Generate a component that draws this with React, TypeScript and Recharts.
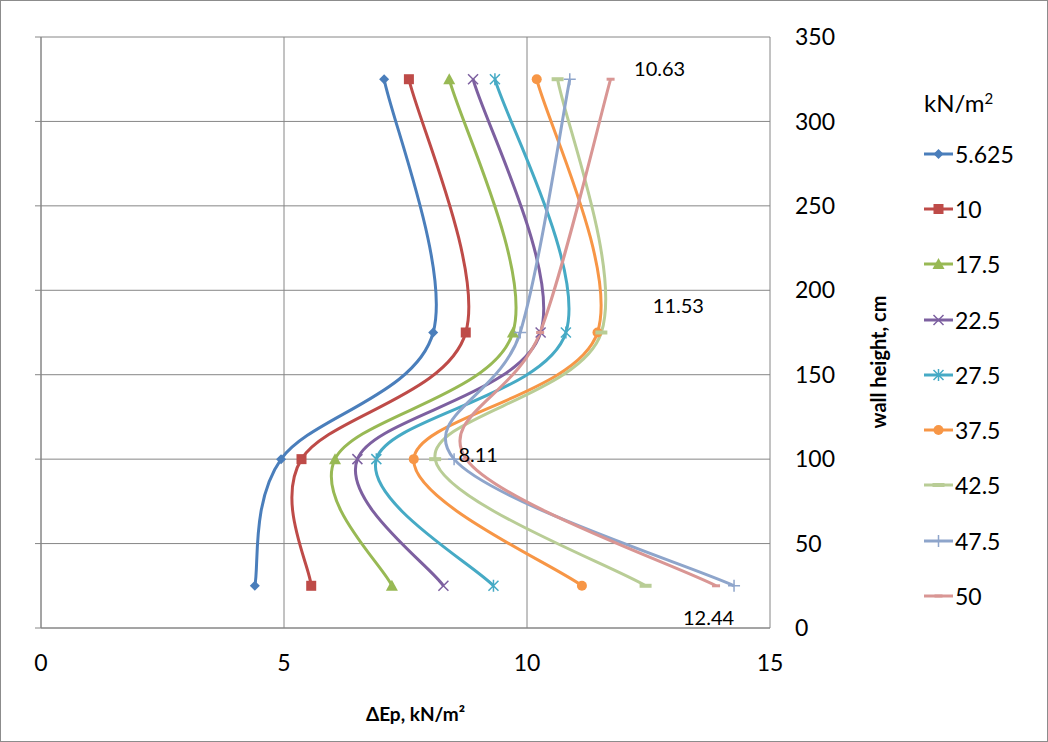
import { LineChart, Line, XAxis, YAxis, CartesianGrid, Legend, LabelList } from 'recharts';

const FONT = 'Lato, "Open Sans", sans-serif';

// wall heights (cm) where the pressure change was measured
const heights = [25, 100, 175, 325];

// surcharge loads, kN/m2 (legend names)
const loads = ['5.625', '10', '17.5', '22.5', '27.5', '37.5', '42.5', '47.5', '50'];

// ΔEp values (kN/m2) at each height, one list per load
const ep5625 = [4.4, 4.94, 8.07, 7.06];
const ep10 = [5.56, 5.36, 8.74, 7.57];
const ep175 = [7.22, 6.05, 9.71, 8.4];
const ep225 = [8.28, 6.51, 10.28, 8.89];
const ep275 = [9.31, 6.9, 10.8, 9.34];
const ep375 = [11.13, 7.67, 11.45, 10.2];
const ep425 = [12.44, 8.11, 11.53, 10.63];
const ep475 = [14.26, 8.5, 9.86, 10.88];
const ep50 = [13.89, 8.75, 10.27, 11.72];

const seriesValues = [ep5625, ep10, ep175, ep225, ep275, ep375, ep425, ep475, ep50];

const xTicks = [0, 5, 10, 15];
const yTicks = [0, 50, 100, 150, 200, 250, 300, 350];

const colors = ['#4A7EBB', '#BE4B48', '#98B954', '#7D60A0', '#46AAC5', '#F79646', '#B9CD96', '#8EA5CB', '#D99694'];
const shapes = ['diamond', 'square', 'triangle', 'x', 'star', 'circle', 'dash', 'plus', 'line'];

// label offsets (px) for the annotated 42.5 series, same order as heights
const noteOffsets = [[63, 31], [43, -5], [77, -28], [102, -11]];

const GRID = '#868686';

// Excel-like smoothing: Catmull-Rom through every point
const smoothCurve: any = (context: any) => {
  let pts: number[][] = [];
  return {
    areaStart() {},
    areaEnd() {},
    lineStart() {
      pts = [];
    },
    point(x: number, y: number) {
      pts.push([+x, +y]);
    },
    lineEnd() {
      if (!pts.length) return;
      context.moveTo(pts[0][0], pts[0][1]);
      for (let i = 0; i < pts.length - 1; i++) {
        const p0 = pts[i - 1] || pts[i];
        const p1 = pts[i];
        const p2 = pts[i + 1];
        const p3 = pts[i + 2] || p2;
        context.bezierCurveTo(
          p1[0] + (p2[0] - p0[0]) / 6,
          p1[1] + (p2[1] - p0[1]) / 6,
          p2[0] - (p3[0] - p1[0]) / 6,
          p2[1] - (p3[1] - p1[1]) / 6,
          p2[0],
          p2[1]
        );
      }
    },
  };
};

function Marker({ shape, cx, cy, color }: { shape: string; cx: number; cy: number; color: string }) {
  switch (shape) {
    case 'diamond':
      return <path d={`M${cx},${cy - 5}L${cx + 5},${cy}L${cx},${cy + 5}L${cx - 5},${cy}Z`} fill={color} />;
    case 'square':
      return <rect x={cx - 5} y={cy - 5} width={10} height={10} fill={color} />;
    case 'triangle':
      return <path d={`M${cx},${cy - 6}L${cx + 6},${cy + 5}L${cx - 6},${cy + 5}Z`} fill={color} />;
    case 'x':
      return <path d={`M${cx - 5},${cy - 5}L${cx + 5},${cy + 5}M${cx + 5},${cy - 5}L${cx - 5},${cy + 5}`} stroke={color} strokeWidth={1.5} fill="none" />;
    case 'star':
      return <path d={`M${cx - 5},${cy - 5}L${cx + 5},${cy + 5}M${cx + 5},${cy - 5}L${cx - 5},${cy + 5}M${cx},${cy - 6}L${cx},${cy + 6}`} stroke={color} strokeWidth={1.5} fill="none" />;
    case 'circle':
      return <circle cx={cx} cy={cy} r={5} fill={color} />;
    case 'dash':
      return <path d={`M${cx - 6},${cy}L${cx + 6},${cy}`} stroke={color} strokeWidth={4} />;
    case 'plus':
      return <path d={`M${cx - 6},${cy}L${cx + 6},${cy}M${cx},${cy - 6}L${cx},${cy + 6}`} stroke={color} strokeWidth={1.5} fill="none" />;
    default:
      return <path d={`M${cx - 4},${cy}L${cx + 4},${cy}`} stroke={color} strokeWidth={3} />;
  }
}

const renderLegend = (props: any) => {
  const payload = (props.payload || [])
    .filter((e: any) => loads.includes(String(e.value)))
    .sort((a: any, b: any) => loads.indexOf(String(a.value)) - loads.indexOf(String(b.value)));
  return (
    <div style={{ fontFamily: FONT, color: '#000' }}>
      <div style={{ fontSize: 24, height: 46, lineHeight: '46px' }}>
        kN/m<sup style={{ fontSize: 15, verticalAlign: 'top', lineHeight: '36px' }}>2</sup>
      </div>
      {payload.map((entry: any) => {
        const i = loads.indexOf(String(entry.value));
        return (
          <div key={entry.value} style={{ display: 'flex', alignItems: 'center', height: 55.3, fontSize: 23 }}>
            <svg width={30} height={16} style={{ marginRight: 1 }}>
              <line x1={0} x2={29} y1={8} y2={8} stroke={colors[i]} strokeWidth={3} />
              <Marker shape={shapes[i]} cx={14.5} cy={8} color={colors[i]} />
            </svg>
            <span>{entry.value}</span>
          </div>
        );
      })}
    </div>
  );
};

export default function App() {
  const seriesData = seriesValues.map((vals) => heights.map((h, i) => ({ x: vals[i], y: h })));

  return (
    <div style={{ position: 'absolute', left: 0, top: 0, width: 1048, height: 742, background: '#fff', outline: '1px solid #8c8c8c', outlineOffset: -1 }}>
      <LineChart width={1048} height={742} margin={{ top: 37, right: 178, bottom: 54, left: 40 }}>
        <CartesianGrid stroke={GRID} strokeWidth={1} />
        <XAxis
          type="number"
          dataKey="x"
          domain={[0, 15]}
          ticks={xTicks}
          allowDataOverflow
          height={60}
          axisLine={{ stroke: GRID }}
          tickLine={false}
          tickSize={0}
          tickMargin={27}
          tick={{ fill: '#000', fontSize: 23, fontFamily: FONT }}
          label={{
            content: (p: any) => (
              <text
                x={p.viewBox.x + p.viewBox.width / 2 + 10}
                y={p.viewBox.y + 85}
                textAnchor="middle"
                dominantBaseline="central"
                fontFamily={FONT}
                fontWeight="bold"
                fontSize={19}
                fill="#000"
              >
                ΔEp, kN/m²
              </text>
            ),
          }}
        />
        <YAxis
          yAxisId="l"
          type="number"
          domain={[0, 350]}
          ticks={yTicks}
          width={1}
          orientation="left"
          axisLine={{ stroke: GRID }}
          tickLine={{ stroke: GRID }}
          tickSize={6}
          tickFormatter={() => ''}
        />
        <YAxis
          type="number"
          domain={[0, 350]}
          ticks={yTicks}
          width={100}
          orientation="right"
          axisLine={false}
          tickLine={false}
          tickSize={0}
          tickMargin={25}
          tick={{ fill: '#000', fontSize: 23, fontFamily: FONT, textAnchor: 'start' }}
          label={{
            content: (p: any) => {
              const cx = p.viewBox.x + 108;
              const cy = p.viewBox.y + 325;
              return (
                <text
                  x={cx}
                  y={cy}
                  transform={`rotate(-90 ${cx} ${cy})`}
                  textAnchor="middle"
                  dominantBaseline="central"
                  fontFamily={FONT}
                  fontWeight="bold"
                  fontSize={20}
                  fill="#000"
                >
                  wall height, cm
                </text>
              );
            },
          }}
        />
        <Legend
          layout="horizontal"
          align="center"
          verticalAlign="middle"
          content={renderLegend}
          wrapperStyle={{ left: 924, top: 80, width: 120, height: 560 }}
        />
        {/* invisible series so the left tick-mark axis gets a domain */}
        <Line
          yAxisId="l"
          data={seriesData[0]}
          dataKey="y"
          stroke="none"
          dot={false}
          activeDot={false}
          legendType="none"
          isAnimationActive={false}
        />
        {loads.map((name, s) => (
          <Line
            key={name}
            name={name}
            data={seriesData[s]}
            dataKey="y"
            type={smoothCurve}
            stroke={colors[s]}
            strokeWidth={3}
            isAnimationActive={false}
            dot={(p: any) => <Marker key={`${name}-${p.index}`} shape={shapes[s]} cx={p.cx} cy={p.cy} color={colors[s]} />}
            activeDot={false}
          >
            {name === '42.5' && (
              <LabelList
                dataKey="x"
                content={(p: any) => {
                  const off = noteOffsets[p.index] || [0, 0];
                  return (
                    <text
                      x={p.x + off[0]}
                      y={p.y + off[1]}
                      textAnchor="middle"
                      dominantBaseline="central"
                      fontFamily={FONT}
                      fontSize={20}
                      fill="#000"
                    >
                      {Number(p.value).toFixed(2)}
                    </text>
                  );
                }}
              />
            )}
          </Line>
        ))}
      </LineChart>
    </div>
  );
}
